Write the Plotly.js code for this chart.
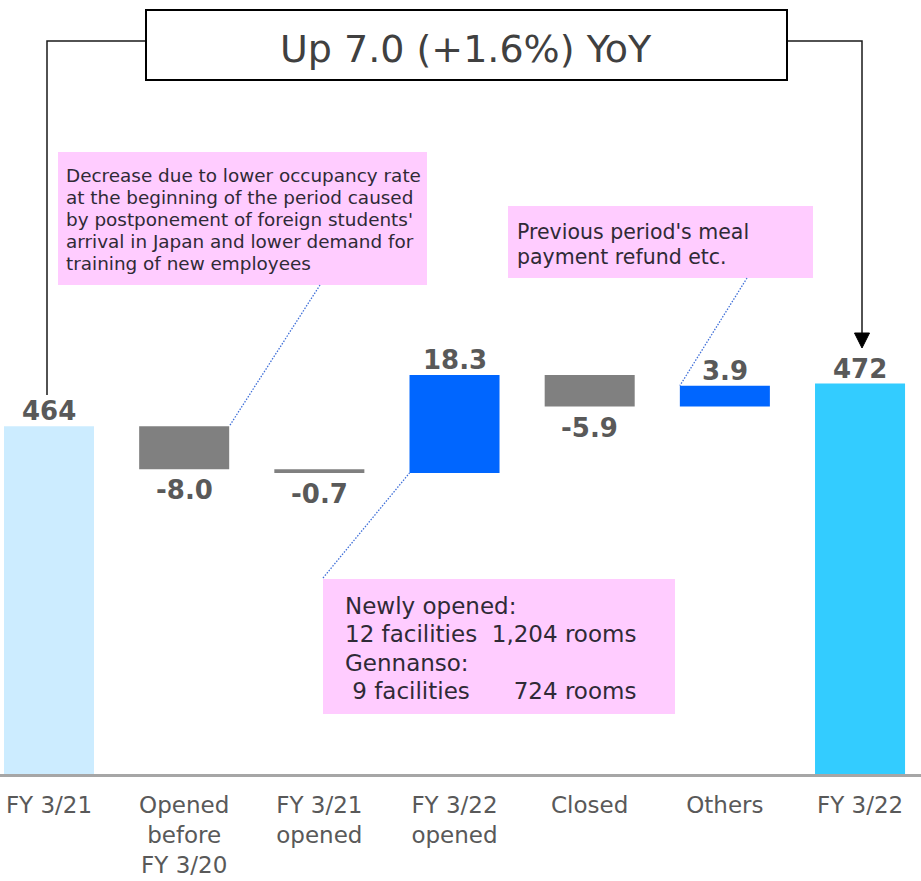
<!DOCTYPE html>
<html>
<head>
<meta charset="utf-8">
<script src="https://cdn.plot.ly/plotly-3.0.1.min.js"></script>
<style>
  html, body { margin: 0; padding: 0; background: #ffffff; }
  #chart { width: 921px; height: 881px; }
</style>
</head>
<body>
<div id="chart"></div>
<script>
// ---- data ----
const categories = ['FY 3/21', 'Opened<br>before<br>FY 3/20', 'FY 3/21<br>opened',
                    'FY 3/22<br>opened', 'Closed', 'Others', 'FY 3/22'];
const measures = ['total', 'relative', 'relative', 'relative', 'relative', 'relative', 'total'];
const values = [464, -8.0, -0.7, 18.3, -5.9, 3.9, 472];
const barColors = ['#CCECFF', '#808080', '#808080', '#0066FF', '#808080', '#0066FF', '#33CCFF'];

const headline = 'Up 7.0 (+1.6%) YoY';
const noteOccupancy = [
  'Decrease due to lower occupancy rate',
  'at the beginning of the period caused',
  "by postponement of foreign students'",
  'arrival in Japan and lower demand for',
  'training of new employees'
];
const noteOthers = ["Previous period's meal", 'payment refund etc.'];
const noteOpened = [
  'Newly opened:',
  '12 facilities  1,204 rooms',
  'Gennanso:',
  ' 9 facilities      724 rooms'
];

// ---- geometry helpers ----
const W = 921, H = 881, PLOT_H = 774;
const XR = [-0.3625, 6.451];
const YR = [399.1, 543.6];
const BAR_W = 0.666;
const FONT = 'DejaVu Sans';

const px = v => v / W;                         // pixel x -> paper
const py = v => (PLOT_H - v) / PLOT_H;         // pixel y -> paper
const dx = x => (x - XR[0]) / (XR[1] - XR[0]); // data x -> paper
const dy = y => (y - YR[0]) / (YR[1] - YR[0]); // data y -> paper

// running waterfall bases
const bases = [], heights = [];
let running = 0;
values.forEach((v, i) => {
  if (measures[i] === 'total') { bases.push(0); running = v; }
  else { bases.push(running); running += v; }
  heights.push(v);
});
const barTop = i => Math.max(bases[i], bases[i] + heights[i]);
const barBottom = i => Math.min(bases[i], bases[i] + heights[i]);

const trace = {
  type: 'bar',
  x: categories,
  y: heights,
  base: bases,
  width: BAR_W,
  marker: { color: barColors, line: { width: 0 } },
  hoverinfo: 'skip'
};

const annotations = [];

// value labels
values.forEach((v, i) => {
  const isTotal = measures[i] === 'total';
  const txt = isTotal ? String(Math.round(v)) : v.toFixed(1);
  const up = isTotal || v > 0;
  annotations.push({
    xref: 'x', yref: 'y', x: categories[i],
    y: up ? barTop(i) : barBottom(i),
    yanchor: up ? 'bottom' : 'top',
    yshift: up ? -2 : -4,
    text: txt, showarrow: false,
    font: { family: FONT, size: 26, weight: 'bold', color: '#595959' }
  });
});

// headline
annotations.push({
  xref: 'paper', yref: 'paper', x: px(466), y: py(49),
  xanchor: 'center', yanchor: 'middle', showarrow: false,
  text: headline,
  font: { family: FONT, size: 38, color: '#404040' }
});

// multi-line notes, one annotation per line (baseline positions in px)
function addNote(lines, left, firstBaseline, step, size) {
  lines.forEach((t, k) => {
    annotations.push({
      xref: 'paper', yref: 'paper',
      x: px(left), y: py(firstBaseline + k * step - 0.34 * size),
      xanchor: 'left', yanchor: 'middle', align: 'left', showarrow: false,
      text: t.replace(/ /g, '\u00A0'),
      font: { family: FONT, size: size, color: '#2f2a36' }
    });
  });
}
addNote(noteOccupancy, 64, 182, 22, 18.4);
addNote(noteOthers, 515, 239, 25, 20.5);
addNote(noteOpened, 343, 614, 28.3, 23);

const shapes = [];

// bracket lines from the headline box to the two totals
shapes.push({
  type: 'path', xref: 'paper', yref: 'paper',
  path: `M ${px(47)} ${py(395)} L ${px(47)} ${py(41)} L ${px(146)} ${py(41)}`,
  line: { color: '#1a1a1a', width: 1.5 }
});
shapes.push({
  type: 'path', xref: 'paper', yref: 'paper',
  path: `M ${px(786)} ${py(41)} L ${px(862)} ${py(41)} L ${px(862)} ${py(336)}`,
  line: { color: '#1a1a1a', width: 1.5 }
});
shapes.push({
  type: 'path', xref: 'paper', yref: 'paper',
  path: `M ${px(854.5)} ${py(333)} L ${px(869.5)} ${py(333)} L ${px(862)} ${py(348)} Z`,
  fillcolor: '#000000', line: { color: '#000000', width: 1 }
});
// headline box
shapes.push({
  type: 'rect', xref: 'paper', yref: 'paper',
  x0: px(146), x1: px(787), y0: py(80), y1: py(10),
  fillcolor: '#ffffff', line: { color: '#000000', width: 2 }
});

// pink note boxes
const pink = '#FFCCFF';
[[58, 427, 152, 285], [508, 813, 206, 278], [323, 675, 579, 714]].forEach(b => {
  shapes.push({
    type: 'rect', xref: 'paper', yref: 'paper',
    x0: px(b[0]), x1: px(b[1]), y0: py(b[3]), y1: py(b[2]),
    fillcolor: pink, line: { width: 0 }, layer: 'below'
  });
});

// dotted leader lines from the notes to their bars
const leader = { color: '#3F6FD8', width: 1.3, dash: '1.5px,1.5px' };
shapes.push({
  type: 'line', xref: 'paper', yref: 'paper',
  x0: px(320), y0: py(285), x1: dx(1 + BAR_W / 2), y1: dy(barTop(1)), line: leader
});
shapes.push({
  type: 'line', xref: 'paper', yref: 'paper',
  x0: px(747), y0: py(278), x1: dx(5 - BAR_W / 2), y1: dy(barTop(5)), line: leader
});
shapes.push({
  type: 'line', xref: 'paper', yref: 'paper',
  x0: px(323), y0: py(578), x1: dx(3 - BAR_W / 2), y1: dy(barBottom(3)), line: leader
});

const layout = {
  width: W, height: H,
  margin: { l: 0, r: 0, t: 0, b: H - PLOT_H, pad: 0 },
  paper_bgcolor: '#ffffff', plot_bgcolor: '#ffffff',
  showlegend: false,
  xaxis: {
    type: 'category', range: XR, fixedrange: true,
    showline: true, linecolor: '#A6A6A6', linewidth: 2.5,
    showgrid: false, zeroline: false, ticks: '',
    tickfont: { family: FONT, size: 23, color: '#595959' },
    ticklabelstandoff: 9
  },
  yaxis: { range: YR, visible: false, fixedrange: true },
  annotations: annotations,
  shapes: shapes
};

Plotly.newPlot('chart', [trace], layout, { displayModeBar: false, staticPlot: true });
</script>
</body>
</html>
